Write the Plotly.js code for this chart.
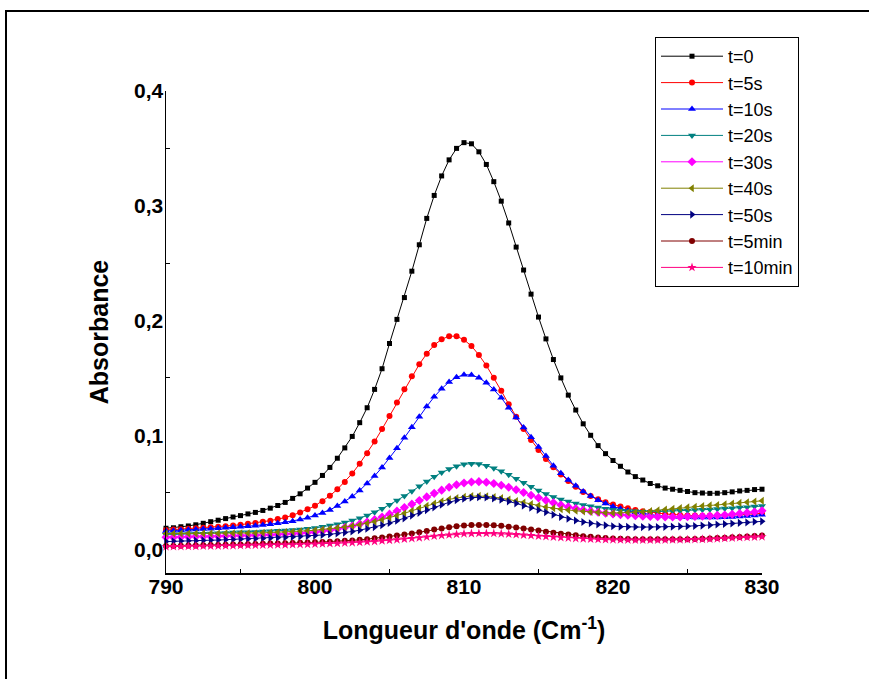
<!DOCTYPE html>
<html>
<head>
<meta charset="utf-8">
<script src="https://cdn.plot.ly/plotly-3.0.1.min.js"></script>
<style>
html,body{margin:0;padding:0;background:#fff;}
#chart{width:869px;height:679px;}
</style>
</head>
<body>
<div id="chart"></div>
<script>
// Wavenumber (cm-1)
const wavenumber = [
790,790.5,791,791.5,792,792.5,793,793.5,794,794.5,
795,795.5,796,796.5,797,797.5,798,798.5,799,799.5,
800,800.5,801,801.5,802,802.5,803,803.5,804,804.5,
805,805.5,806,806.5,807,807.5,808,808.5,809,809.5,
810,810.5,811,811.5,812,812.5,813,813.5,814,814.5,
815,815.5,816,816.5,817,817.5,818,818.5,819,819.5,
820,820.5,821,821.5,822,822.5,823,823.5,824,824.5,
825,825.5,826,826.5,827,827.5,828,828.5,829,829.5,
830];

const seriesNames = ["t=0","t=5s","t=10s","t=20s","t=30s","t=40s","t=50s","t=5min","t=10min"];

const abs_t0 = [
.019,.0194,.0203,.021,.022,.0233,.0247,.026,.0274,.0288,
.030,.0315,.0328,.0345,.0365,.0388,.0415,.045,.049,.054,
.059,.065,.072,.080,.089,.099,.111,.124,.140,.158,
.180,.201,.220,.243,.266,.289,.309,.326,.340,.350,
.355,.354,.347,.336,.321,.304,.285,.264,.244,.223,
.203,.184,.166,.150,.135,.122,.110,.100,.091,.084,
.078,.073,.068,.064,.061,.058,.056,.054,.053,.052,
.051,.050,.0497,.0494,.0495,.050,.0507,.0515,.052,.0527,
.053];

const abs_t5s = [
.0174,.0178,.0182,.0186,.019,.0195,.0199,.0204,.0208,.0214,
.0221,.0229,.0236,.0246,.0256,.027,.0283,.0303,.0328,.0355,
.0386,.0426,.0473,.0529,.0594,.0667,.0753,.0844,.0945,.1054,
.1169,.1286,.1401,.1514,.1619,.1711,.1786,.1836,.1864,.1863,
.1832,.1778,.17,.1608,.1502,.1388,.1271,.1162,.1055,.0959,
.0872,.0793,.0722,.0658,.0602,.0551,.0506,.047,.0442,.0417,
.0397,.0379,.0364,.035,.0339,.0331,.0323,.0314,.0308,.0305,
.0302,.03,.0299,.03,.03,.0301,.0305,.0308,.0312,.0316,
.032];

const abs_t10s = [
.0166,.0169,.0173,.0176,.0179,.0183,.0186,.019,.0194,.0198,
.0202,.0207,.0212,.0219,.0225,.0233,.0243,.0252,.0266,.0281,
.0302,.0323,.035,.0384,.0422,.0466,.0519,.0579,.0646,.072,
.0801,.0887,.0979,.1071,.1162,.1251,.1335,.1406,.1464,.1506,
.1527,.1526,.1501,.1457,.1398,.1327,.124,.1156,.1068,.0982,
.0898,.0819,.0735,.067,.061,.056,.051,.047,.0435,.0405,
.038,.036,.0343,.033,.0318,.0308,.03,.0295,.0291,.0288,
.0286,.0284,.0283,.0283,.0284,.0286,.0288,.0292,.0296,.0301,
.0308];

const abs_t20s = [
.0133,.0135,.0137,.0139,.0141,.0143,.0145,.0147,.0149,.0152,
.0154,.0156,.0158,.0162,.0164,.0168,.0171,.0175,.018,.0186,
.0193,.0203,.0213,.0225,.024,.0257,.0278,.0302,.0329,.036,
.0395,.0431,.0471,.0512,.0556,.0598,.0639,.0676,.0707,.0731,
.0747,.0753,.0749,.0735,.0713,.0687,.0656,.0622,.0586,.0552,
.0518,.0488,.0463,.0441,.0422,.0406,.0393,.0382,.037,.036,
.0352,.0345,.0341,.0337,.0334,.0334,.0335,.0337,.034,.0342,
.0345,.0348,.0351,.0354,.0357,.0361,.0365,.037,.0374,.0379,
.0383];

const abs_t30s = [
.0111,.0112,.0114,.0115,.0117,.0118,.0119,.0121,.0122,.0124,
.0126,.0127,.0129,.0131,.0133,.0136,.0139,.0142,.0146,.0151,
.0156,.0165,.0173,.0183,.0196,.0209,.0226,.0244,.0265,.0288,
.0313,.034,.037,.04,.0432,.0463,.0494,.0522,.0547,.0569,
.0584,.0593,.0596,.0591,.058,.0565,.0547,.0525,.0502,.0478,
.0455,.0433,.0412,.0393,.0376,.0361,.0349,.0339,.0329,.032,
.0314,.0308,.0303,.0299,.0295,.0292,.029,.0289,.0288,.0289,
.029,.0292,.0294,.0297,.0302,.0306,.0312,.0318,.0325,.0332,
.0342];

const abs_t40s = [
.0144,.0144,.0144,.0144,.0144,.0145,.0145,.0145,.0146,.0146,
.0146,.0147,.0147,.015,.0153,.0155,.0158,.016,.0164,.0168,
.0173,.0179,.0185,.0193,.02,.021,.0221,.0234,.0248,.0264,
.0281,.03,.032,.0342,.0364,.0385,.0406,.0425,.0442,.0454,
.0463,.047,.0472,.0469,.0462,.0453,.0441,.0428,.0414,.0401,
.0388,.0375,.0365,.0356,.0348,.0342,.0337,.0332,.0328,.0324,
.0323,.0324,.0327,.033,.0332,.0339,.0346,.0353,.036,.0366,
.0372,.0378,.0383,.0389,.0393,.0399,.0405,.0411,.0416,.0423,
.0429];

const abs_t50s = [
.0074,.0077,.0078,.008,.0082,.0084,.0086,.0087,.009,.0092,
.0094,.0096,.0099,.0101,.0104,.0107,.011,.0113,.0117,.0121,
.0126,.0131,.0137,.0144,.0152,.0162,.0173,.0186,.02,.0217,
.0235,.0255,.0276,.03,.0324,.0348,.0372,.0395,.0416,.0434,
.0447,.0456,.046,.0458,.045,.0439,.0424,.0407,.0387,.0368,
.0349,.0329,.0308,.0289,.0272,.0257,.0244,.0233,.0223,.0215,
.0208,.0204,.0202,.0201,.02,.02,.0201,.0202,.0204,.0206,
.0208,.021,.0213,.0217,.0222,.0227,.0232,.0237,.0241,.0246,
.025];

const abs_t5min = [
.0035,.0036,.0038,.0039,.004,.0042,.0043,.0045,.0047,.0048,
.0049,.0051,.0052,.0054,.0056,.0057,.0059,.0061,.0063,.0065,
.0067,.007,.0073,.0076,.008,.0084,.0089,.0095,.0102,.0109,
.0117,.0126,.0135,.0145,.0156,.0167,.0178,.0188,.0198,.0207,
.0214,.0218,.0219,.0218,.0216,.0211,.0204,.0196,.0188,.0179,
.017,.016,.0151,.0143,.0135,.0128,.0121,.0115,.0109,.0105,
.0101,.0098,.0096,.0094,.0093,.0093,.0093,.0093,.0094,.0094,
.0095,.0096,.0098,.0101,.0104,.0107,.0111,.0114,.0118,.0122,
.0127];

const abs_t10min = [
.0029,.003,.0031,.0032,.0033,.0034,.0035,.0036,.0037,.0038,
.004,.0041,.0042,.0043,.0044,.0045,.0046,.0047,.0049,.005,
.0052,.0054,.0057,.0059,.0062,.0064,.0067,.0071,.0075,.008,
.0085,.009,.0096,.0101,.0107,.0114,.0121,.0127,.0132,.0137,
.0142,.0144,.0145,.0145,.0145,.0142,.0139,.0135,.0131,.0126,
.0121,.0117,.0113,.0109,.0105,.0101,.0098,.0095,.0093,.0091,
.009,.0089,.0088,.0087,.0087,.0087,.0087,.0088,.0089,.009,
.0091,.0092,.0094,.0096,.0099,.0102,.0105,.0108,.0111,.0113,
.0116];

const xTickVals = [790,800,810,820,830];
const yTickVals = [0,0.1,0.2,0.3,0.4];

const seriesValues = [abs_t0,abs_t5s,abs_t10s,abs_t20s,abs_t30s,abs_t40s,abs_t50s,abs_t5min,abs_t10min];
const colors = ["#000000","#FF0000","#0000FF","#008080","#FF00FF","#808000","#000080","#800000","#FF0080"];
const symbols = ["square","circle","triangle-up","triangle-down","diamond","triangle-left","triangle-right","circle","star"];
const msizes = [5,6,7,7,7,7,7,6,7];

const traces = seriesValues.map((vals,i)=>({
  type:"scatter",
  mode:"lines+markers",
  name:seriesNames[i],
  x:wavenumber,
  y:vals,
  line:{color:colors[i],width:1},
  marker:{color:colors[i],symbol:symbols[i],size:msizes[i],line:{width:0}},
  cliponaxis:false
}));

const FONT = "Arial, 'Liberation Sans', sans-serif";
const L=166, R=762, T=91, B=573, W=869, H=679;
const px = v => (v-L)/(R-L);
const py = v => (B-v)/(B-T);

const layout = {
  width:W, height:H,
  margin:{l:L, r:W-R, t:T, b:H-B, pad:0},
  paper_bgcolor:"#fff", plot_bgcolor:"#fff",
  separators:", ",
  font:{family:FONT, color:"#000"},
  showlegend:true,
  legend:{
    x:px(655), y:py(37), xanchor:"left", yanchor:"top",
    bordercolor:"#000", borderwidth:1, bgcolor:"#fff",
    font:{family:FONT, size:18, color:"#000"},
    itemwidth:62, tracegroupgap:0
  },
  xaxis:{
    range:[790,830], tickvals:xTickVals, ticktext:xTickVals.map(String),
    showgrid:false, zeroline:false, showline:true, linecolor:"#000", linewidth:1.5,
    ticks:"", ticklabelstandoff:-6,
    minor:{tickvals:[795,805,815,825], ticks:"inside", ticklen:4, tickcolor:"#000", tickwidth:1, showgrid:false},
    tickfont:{family:FONT, size:21, color:"#000", weight:"bold"},
    title:{text:"<b>Longueur d'onde (Cm<sup>-1</sup>)</b>", font:{family:FONT, size:25, color:"#000"}, standoff:25}
  },
  yaxis:{
    range:[-0.02,0.4], tickvals:yTickVals, tickformat:".1f",
    showgrid:false, zeroline:false, showline:true, linecolor:"#000", linewidth:1.5,
    ticks:"", ticklabelstandoff:-3,
    minor:{tickvals:[0.05,0.15,0.25,0.35], ticks:"inside", ticklen:4, tickcolor:"#000", tickwidth:1, showgrid:false},
    tickfont:{family:FONT, size:21, color:"#000", weight:"bold"},
    title:{text:"<b>Absorbance</b>", font:{family:FONT, size:25, color:"#000"}, standoff:18}
  },
  shapes:[{
    type:"rect", xref:"paper", yref:"paper",
    x0:px(6), x1:px(880), y0:py(690), y1:py(11),
    line:{color:"#000", width:2}, fillcolor:"rgba(0,0,0,0)", layer:"below"
  }],
  hovermode:false
};

Plotly.newPlot("chart", traces, layout, {displayModeBar:false, staticPlot:true});
</script>
</body>
</html>
